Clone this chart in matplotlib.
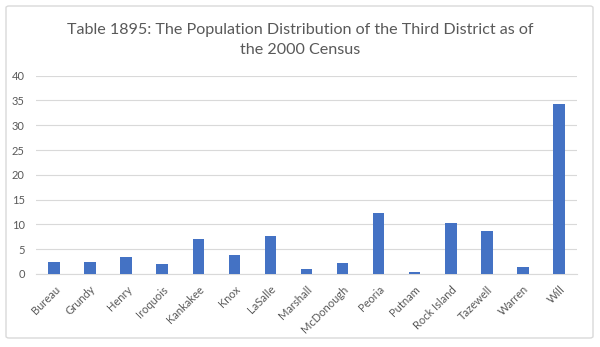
import matplotlib as mpl
mpl.use('Agg')
import matplotlib.pyplot as plt
from matplotlib.patches import FancyBboxPatch

# county names and share of district population (%)
counties = ['Bureau', 'Grundy', 'Henry', 'Iroquois', 'Kankakee', 'Knox', 'LaSalle',
            'Marshall', 'McDonough', 'Peoria', 'Putnam', 'Rock Island', 'Tazewell',
            'Warren', 'Will']
shares = [2.5, 2.5, 3.4, 2.1, 7.0, 3.8, 7.6, 0.95, 2.3, 12.4, 0.4, 10.2, 8.7, 1.35, 34.3]
yticks = [0, 5, 10, 15, 20, 25, 30, 35, 40]

grey = '#595959'
plt.rcParams['font.family'] = ['Lato', 'DejaVu Sans']

fig = plt.figure(figsize=(6, 3.47), dpi=100)
ax = fig.add_axes([36 / 600, 1 - 274 / 347, (577 - 36) / 600, (274 - 75.7) / 347])

x = range(len(counties))
ax.bar(x, shares, width=0.32, color='#4472C4', zorder=3)

ax.set_xlim(-0.5, len(counties) - 0.5)
ax.set_ylim(0, 40)
ax.set_yticks(yticks)
ax.set_yticklabels([str(v) for v in yticks], fontsize=8, color=grey)
ax.set_xticks(list(x))
ax.set_xticklabels(counties, rotation=45, ha='right', rotation_mode='anchor',
                   fontsize=8, color=grey)
ax.tick_params(axis='x', length=0, pad=7)
ax.tick_params(axis='y', length=0, pad=8)
ax.grid(axis='y', color='#d9d9d9', linewidth=0.8, zorder=0)
for s in ['left', 'right', 'top']:
    ax.spines[s].set_visible(False)
ax.spines['bottom'].set_color('#d9d9d9')

fig.text(0.5, 1 - 30 / 347, 'Table 1895: The Population Distribution of the Third District as of',
         ha='center', va='center', fontsize=11.6, color=grey)
fig.text(0.5, 1 - 50 / 347, 'the 2000 Census',
         ha='center', va='center', fontsize=11.6, color=grey)

# outer chart border
border = FancyBboxPatch((6 / 600, 1 - 338 / 347), (593 - 6) / 600, (338 - 6) / 347,
                        boxstyle='round,pad=0,rounding_size=0.005',
                        transform=fig.transFigure, fill=False,
                        edgecolor='#d9d9d9', linewidth=1)
fig.patches.append(border)

plt.savefig('out.png')
